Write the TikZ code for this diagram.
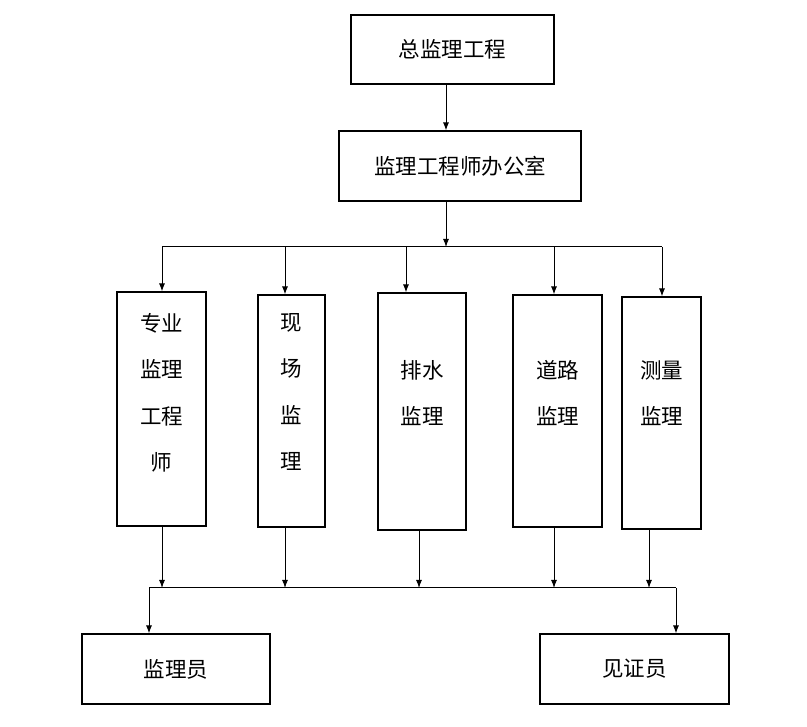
\documentclass[tikz,border=0pt]{standalone}
\usepackage{fontspec}
\newfontfamily\cjk{Noto Sans CJK SC}
\usetikzlibrary{arrows.meta}

\begin{document}
\begin{tikzpicture}[x=1pt, y=-1pt,
      box/.style={draw, line width=1.1pt, inner sep=0pt,
                  font=\cjk\fontsize{21.5}{21.5}\selectfont},    % boxes with one line of text
      col/.style={draw, line width=1.1pt, inner sep=0pt},        % tall column boxes
      coltext/.style={font=\cjk\fontsize{21.5}{46.5}\selectfont,
                      align=center, inner sep=0pt, anchor=north}, % stacked column text
      bus/.style={line width=1pt},                               % horizontal bus lines
      arr/.style={line width=1pt, -{Latex[length=8pt,width=6pt]}}]
    \useasboundingbox (0,0) rectangle (807,727);
    \node[box, minimum width=203pt, minimum height=69pt] (chief)  at (452.5,49.5) {总监理工程};
    \node[box, minimum width=242pt, minimum height=70pt] (office) at (460,166)    {监理工程师办公室};
    % the five columns
    \node[col, minimum width=89pt, minimum height=234pt] (prof)   at (161.5,409)   {};
    \node[col, minimum width=67pt, minimum height=232pt] (site)   at (291.5,411)   {};
    \node[col, minimum width=88pt, minimum height=237pt] (drain)  at (422,411.5)   {};
    \node[col, minimum width=89pt, minimum height=232pt] (road)   at (557.5,411)   {};
    \node[col, minimum width=79pt, minimum height=232pt] (survey) at (661.5,413)   {};
    \node[coltext] (prof-t)   at (161.5,313) {专业\\监理\\工程\\师};
    \node[coltext] (site-t)   at (291.5,313) {现\\场\\监\\理};
    \node[coltext] (drain-t)  at (422,360)   {排水\\监理};
    \node[coltext] (road-t)   at (557.5,360) {道路\\监理};
    \node[coltext] (survey-t) at (661.5,360) {测量\\监理};
    \node[box, minimum width=188pt, minimum height=70pt] (inspector) at (176,669)   {监理员};
    \node[box, minimum width=189pt, minimum height=70pt] (witness)   at (634.5,669) {见证员};
    % top part
    \coordinate (spine) at (446,247);
    \draw[arr] (chief.south -| spine) -- (office.north -| spine);
    \draw[arr] (office.south -| spine) -- (spine);
    \coordinate (busL) at (162,247);
    \coordinate (busR) at (662,247);
    \draw[bus] (busL) -- (busR);
    \foreach \n/\x in {prof/162, site/285, drain/406, road/554, survey/662} {
      \coordinate (top-\n) at (\x,247);
      \draw[arr] (top-\n) -- (top-\n |- \n.north);
    }
    % bottom part
    \foreach \n/\x in {prof/162, site/285, drain/419, road/554, survey/649} {
      \coordinate (bot-\n) at (\x,588);
      \draw[arr] (bot-\n |- \n.south) -- (bot-\n);
    }
    \coordinate (busA) at (149,588);
    \coordinate (busB) at (676,588);
    \draw[arr] (busB) -- (busA) -- (busA |- inspector.north);
    \draw[arr] (busB) -- (busB |- witness.north);
  \end{tikzpicture}
\end{document}
